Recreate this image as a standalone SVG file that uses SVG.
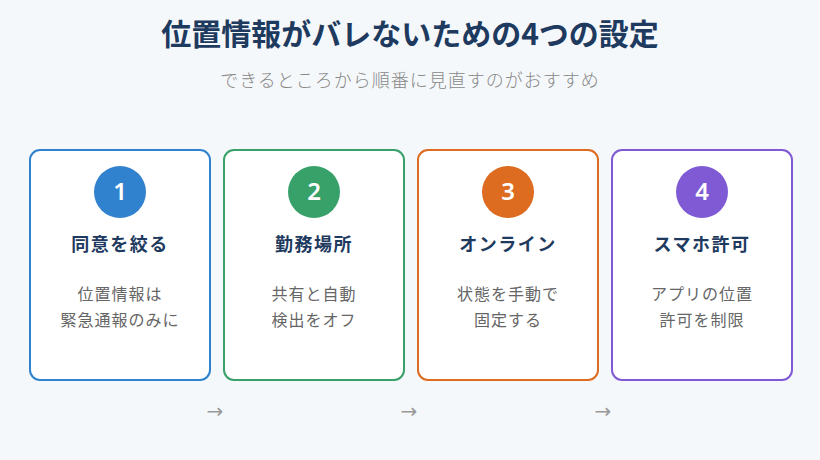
<svg xmlns="http://www.w3.org/2000/svg" width="820" height="460" viewBox="0 0 820 460">
<style>
text{font-family:"Noto Sans CJK JP","Noto Sans",sans-serif;text-anchor:middle}
.title{font-size:30px;font-weight:700;fill:#1e3a5f}
.sub{font-size:18px;fill:#888;letter-spacing:1px;font-weight:300}
.card{fill:#fff;stroke-width:2}
.num{font-size:24px;font-weight:600;fill:#fff;font-family:"Noto Sans",sans-serif}
.head{font-size:18px;font-weight:700;fill:#1e3a5f;letter-spacing:1.5px}
.desc{font-size:16px;fill:#666;letter-spacing:1px}
.arrow{font-size:20px;fill:#999;font-family:"DejaVu Sans",sans-serif}
</style>
<rect width="820" height="460" fill="#f5f8fb"/>
<text class="title" x="410" y="45">位置情報がバレないための4つの設定</text>
<text class="sub" x="410" y="87">できるところから順番に見直すのがおすすめ</text>
<g id="node1">
<rect class="card" x="30" y="150" width="180" height="230" rx="10" stroke="#3182ce"/>
<circle cx="120" cy="192" r="26" fill="#3182ce"/>
<text class="num" x="120" y="200">1</text>
<text class="head" x="120" y="251">同意を絞る</text>
<text class="desc" x="120" y="300">位置情報は</text>
<text class="desc" x="120" y="326">緊急通報のみに</text>
</g>
<g id="node2">
<rect class="card" x="224" y="150" width="180" height="230" rx="10" stroke="#38a169"/>
<circle cx="314" cy="192" r="26" fill="#38a169"/>
<text class="num" x="314" y="200">2</text>
<text class="head" x="314" y="251">勤務場所</text>
<text class="desc" x="314" y="300">共有と自動</text>
<text class="desc" x="314" y="326">検出をオフ</text>
</g>
<g id="node3">
<rect class="card" x="418" y="150" width="180" height="230" rx="10" stroke="#dd6b20"/>
<circle cx="508" cy="192" r="26" fill="#dd6b20"/>
<text class="num" x="508" y="200">3</text>
<text class="head" x="508" y="251">オンライン</text>
<text class="desc" x="508" y="300">状態を手動で</text>
<text class="desc" x="508" y="326">固定する</text>
</g>
<g id="node4">
<rect class="card" x="612" y="150" width="180" height="230" rx="10" stroke="#805ad5"/>
<circle cx="702" cy="192" r="26" fill="#805ad5"/>
<text class="num" x="702" y="200">4</text>
<text class="head" x="702" y="251">スマホ許可</text>
<text class="desc" x="702" y="300">アプリの位置</text>
<text class="desc" x="702" y="326">許可を制限</text>
</g>
<g id="connectors">
<text class="arrow" x="215" y="418">→</text>
<text class="arrow" x="409" y="418">→</text>
<text class="arrow" x="603" y="418">→</text>
</g>
</svg>
